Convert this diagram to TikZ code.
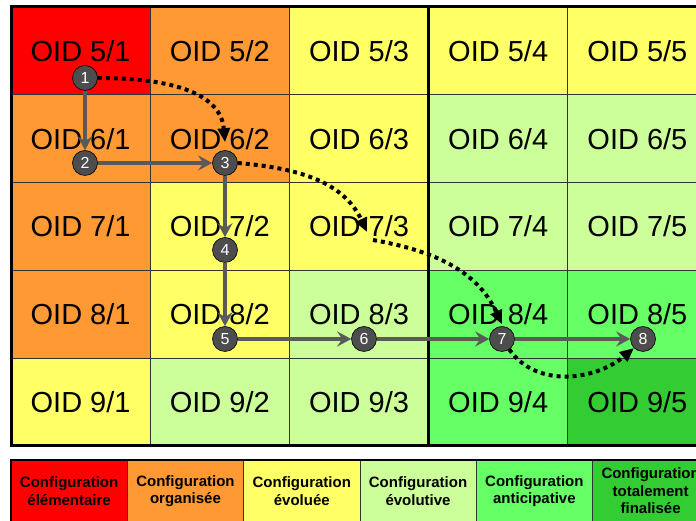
\documentclass[tikz,border=0pt]{standalone}
\usepackage{fontspec}
\setmainfont{Liberation Sans}
\usetikzlibrary{arrows.meta,positioning,calc}
\definecolor{cRed}{RGB}{255,0,0}
\definecolor{cOrange}{RGB}{255,153,51}
\definecolor{cYellow}{RGB}{255,255,102}
\definecolor{cLight}{RGB}{204,255,153}
\definecolor{cGreen}{RGB}{102,255,102}
\definecolor{cDark}{RGB}{51,204,51}
\definecolor{stepgray}{RGB}{77,77,77}
\definecolor{flowgray}{RGB}{90,90,90}
\tikzset{
  cell/.style={draw=black!80, line width=0.8pt, minimum width=139.2pt, minimum height=87.8pt,
    inner sep=0pt, font=\fontsize{29}{34}\selectfont},
  legcell/.style={draw=black!80, line width=0.8pt, minimum width=116.3pt, minimum height=62pt,
    inner sep=0pt, align=center, font=\bfseries\fontsize{15}{17.5}\selectfont},
  frame/.style={line width=3pt, black},
  stepdot/.style={circle, fill=stepgray, draw=black, line width=0.6pt, minimum size=25pt,
    inner sep=0pt, text=white, font=\fontsize{16}{16}\selectfont},
  flow/.style={-{Stealth[length=14pt,width=15pt,inset=5pt]}, line width=3.3pt, flowgray},
  jump/.style={-{Triangle[length=14pt,width=12pt]}, line width=4pt, dash pattern=on 4pt off 4pt},
}

\begin{document}
\begin{tikzpicture}[x=1pt,y=1pt]
  \useasboundingbox (0,0) rectangle (696,521);
  \clip (0,0) rectangle (696,521);
  % OID grid
  \foreach [count=\i] \row in {{cRed,cOrange,cYellow,cYellow,cYellow},
      {cOrange,cOrange,cYellow,cLight,cLight},{cOrange,cYellow,cYellow,cLight,cLight},
      {cOrange,cYellow,cLight,cGreen,cGreen},{cYellow,cLight,cLight,cGreen,cDark}}{
    \pgfmathtruncatemacro\rn{\i+4}
    \foreach [count=\j] \c in \row
      \node[cell, fill=\c] (c\rn\j) at ({80.6+139.2*(\j-1)},{470.1-87.8*(\i-1)}) {OID \rn/\j};
  }
  \draw[frame] (720,514) -- (11,514) -- (11,75) -- (720,75);
  \draw[frame] (428.6,514) -- (428.6,75);
  % legend
  \foreach [count=\k] \c/\t in {cRed/{Configuration\\élémentaire},cOrange/{Configuration\\organisée},
      cYellow/{Configuration\\évoluée},cLight/{Configuration\\évolutive},
      cGreen/{Configuration\\anticipative},cDark/{Configuration\\totalement\\finalisée}}
    \node[legcell, fill=\c] (l\k) at ({69.15+116.3*(\k-1)},30) {\t};
  \draw[frame, line width=2.5pt] (720,61) -- (11,61) -- (11,-5);
  % steps
  \node[stepdot] (p1) at (85,443) {1};
  \node[stepdot] (p2) at (85,358) {2};
  \node[stepdot] (p3) at (225,358) {3};
  \node[stepdot] (p4) at (225,271) {4};
  \node[stepdot] (p5) at (225,182) {5};
  \node[stepdot] (p6) at (364,182) {6};
  \node[stepdot] (p7) at (502,182) {7};
  \node[stepdot] (p8) at (643,182) {8};
  \foreach \a/\b in {1/2,2/3,3/4,4/5,5/6,6/7,7/8}
    \draw[flow] (p\a) -- (p\b);
  % jumps
  \coordinate (m1) at (367,289);
  \coordinate (m2) at (373,281);
  \draw[jump] (p1.east) to[out=0,in=95] ([yshift=8pt]p3.north);
  \draw[jump] (p3.east) to[out=-5,in=115] (m1);
  \draw[jump] (m2) to[out=-10,in=115] ([yshift=2pt]p7.north);
  \draw[jump] (p7.-55) to[out=-55,in=-140] (p8.-135);
\end{tikzpicture}
\end{document}
